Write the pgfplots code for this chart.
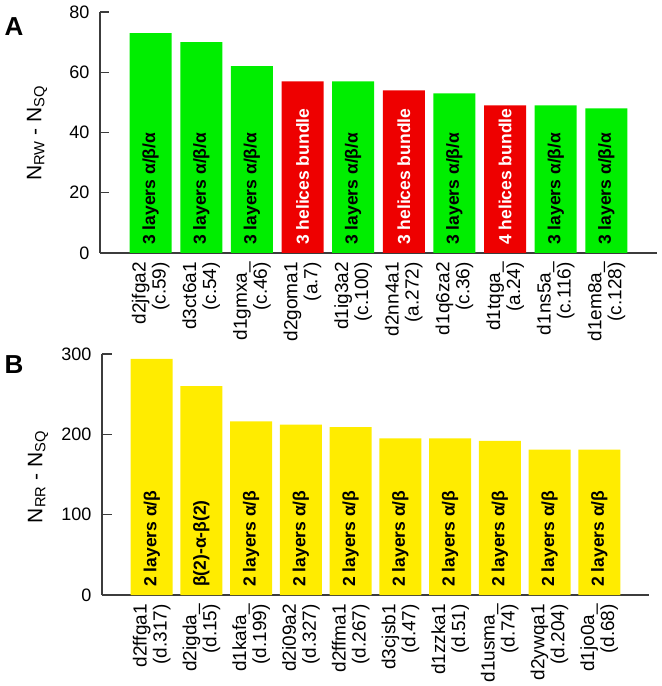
\documentclass[border=0pt]{standalone}
\usepackage{fontspec}
\setmainfont{Liberation Sans}
\usepackage{pgfplots}
\pgfplotsset{compat=1.18}
\definecolor{bargreen}{RGB}{0,238,0}
\definecolor{barred}{RGB}{238,0,0}
\definecolor{baryellow}{RGB}{255,236,0}
\definecolor{axisgray}{RGB}{60,60,60}
\newcommand{\tf}{\fontsize{18bp}{21bp}\selectfont}
\newcommand{\xf}{\fontsize{19bp}{20bp}\selectfont}
\newcommand{\barfont}{\fontsize{17.5bp}{21bp}\selectfont\bfseries}
\tikzset{bartext/.style={rotate=90, anchor=west, inner sep=0pt, inner xsep=8bp, font=\barfont},
  ytk/.style={draw=axisgray, line width=1.2bp}}
\pgfplotsset{
  myax/.style={
    scale only axis,
    anchor=south west,
    height=241bp,
    axis x line=bottom,
    axis y line=left,
    axis line style={-, draw=axisgray, line width=1.2bp},
    xmin=-1, xmax=10,
    xtick={0,...,9},
    tick align=inside,
    major tick length=9bp,
    every tick/.style={draw=axisgray, line width=1.2bp},
    every major x tick/.style={draw=none},
    ymin=0,
    /pgf/number format/assume math mode=true,
    yticklabel style={font=\tf, xshift=-7bp},
    xticklabel style={font=\xf, rotate=90, anchor=east, align=right, inner sep=0pt, xshift=-9bp},
    ylabel style={font=\fontsize{21bp}{24bp}\selectfont, anchor=center},
    clip=false,
  },
}
\begin{document}
\begin{tikzpicture}
\useasboundingbox (0,0) rectangle (662bp,686bp);
% Panel A
\begin{axis}[myax,
  at={(100bp,433bp)},
  width=557bp,
  ymax=80, ytick={0,20,40,60,80},
  ylabel={N\textsubscript{RW} - N\textsubscript{SQ}},
  ylabel style={at={(axis description cs:-0.113,0.497)}},
  xticklabels={{d2jfga2\\(c.59)},{d3ct6a1\\(c.54)},{d1gmxa\_\\(c.46)},{d2goma1\\(a.7)},{d1ig3a2\\(c.100)},{d2nn4a1\\(a.272)},{d1q6za2\\(c.36)},{d1tqga\_\\(a.24)},{d1ns5a\_\\(c.116)},{d1em8a\_\\(c.128)}},
]
\addplot[ybar, bar width=42bp, fill=bargreen, draw=none] coordinates {(0,73) (1,70) (2,62) (4,57) (6,53) (8,49) (9,48)};
\addplot[ybar, bar width=42bp, fill=barred, draw=none] coordinates {(3,57) (5,54) (7,49)};
\node[bartext] at (axis cs:0,0) {3 layers α/β/α};
\node[bartext] at (axis cs:1,0) {3 layers α/β/α};
\node[bartext] at (axis cs:2,0) {3 layers α/β/α};
\node[bartext, text=white] at (axis cs:3,0) {3 helices bundle};
\node[bartext] at (axis cs:4,0) {3 layers α/β/α};
\node[bartext, text=white] at (axis cs:5,0) {3 helices bundle};
\node[bartext] at (axis cs:6,0) {3 layers α/β/α};
\node[bartext, text=white] at (axis cs:7,0) {4 helices bundle};
\node[bartext] at (axis cs:8,0) {3 layers α/β/α};
\node[bartext] at (axis cs:9,0) {3 layers α/β/α};
\end{axis}
% Panel B
\begin{axis}[myax,
  at={(102bp,91bp)},
  width=547bp,
  ymax=300, ytick={0,100,200,300},
  major tick length=10bp,
  ylabel={N\textsubscript{RR} - N\textsubscript{SQ}},
  ylabel style={at={(axis description cs:-0.117,0.49)}},
  xticklabels={{d2ffga1\\(d.317)},{d2igda\_\\(d.15)},{d1kafa\_\\(d.199)},{d2i09a2\\(d.327)},{d2ffma1\\(d.267)},{d3cjsb1\\(d.47)},{d1zzka1\\(d.51)},{d1usma\_\\(d.74)},{d2ywqa1\\(d.204)},{d1jo0a\_\\(d.68)}},
]
\addplot[ybar, bar width=42bp, fill=baryellow, draw=none] coordinates {(0,294) (1,260) (2,216) (3,212) (4,209) (5,195) (6,195) (7,192) (8,181) (9,181)};
\node[bartext] at (axis cs:0,0) {2 layers α/β};
\node[bartext] at (axis cs:1,0) {β(2)-α-β(2)};
\node[bartext] at (axis cs:2,0) {2 layers α/β};
\node[bartext] at (axis cs:3,0) {2 layers α/β};
\node[bartext] at (axis cs:4,0) {2 layers α/β};
\node[bartext] at (axis cs:5,0) {2 layers α/β};
\node[bartext] at (axis cs:6,0) {2 layers α/β};
\node[bartext] at (axis cs:7,0) {2 layers α/β};
\node[bartext] at (axis cs:8,0) {2 layers α/β};
\node[bartext] at (axis cs:9,0) {2 layers α/β};
\end{axis}
% y-axis tick marks (inside), panel A: 20,40,60,80 ; panel B: 100,200,300
\draw[ytk] (100bp,493.25bp) -- (109bp,493.25bp);
\draw[ytk] (100bp,553.5bp) -- (109bp,553.5bp);
\draw[ytk] (100bp,613.75bp) -- (109bp,613.75bp);
\draw[ytk] (100bp,674bp) -- (109bp,674bp);
\draw[ytk] (102bp,171.33bp) -- (112bp,171.33bp);
\draw[ytk] (102bp,251.67bp) -- (112bp,251.67bp);
\draw[ytk] (102bp,332bp) -- (112bp,332bp);
\node[font=\fontsize{26bp}{28bp}\selectfont\bfseries] at (14bp,659bp) {A};
\node[font=\fontsize{26bp}{28bp}\selectfont\bfseries] at (14bp,321bp) {B};
\end{tikzpicture}
\end{document}
